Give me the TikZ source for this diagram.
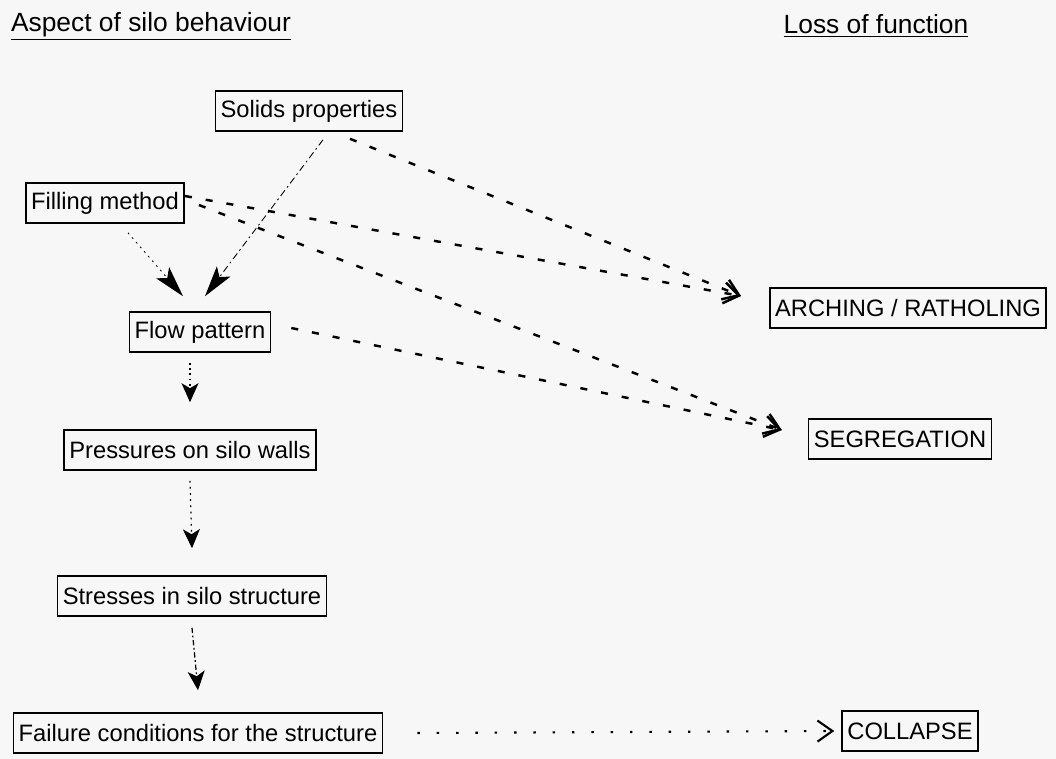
\documentclass[tikz,border=0pt]{standalone}
\usepackage{fontspec}
\setmainfont{Liberation Sans}
\usetikzlibrary{arrows.meta}

\begin{document}
\begin{tikzpicture}[
    box/.style={draw, line width=0.9pt, inner xsep=3pt, inner ysep=2pt, minimum height=0.8cm, font=\fontsize{13.5}{16}\selectfont},
    heading/.style={font=\fontsize{15}{18}\selectfont},
    lossline/.style={-{Straight Barb[length=0.3cm,width=0.42cm]}, line width=1.4pt, dash pattern=on 4pt off 8pt},
    feed/.style={-{Stealth[length=0.62cm,width=0.34cm,inset=0.14cm]}, line width=0.5pt},
    chain/.style={-{Stealth[length=0.38cm,width=0.34cm,inset=0.1cm]}, line width=0.7pt},
]
  \fill[black!3] (0,0) rectangle (21.12,-15.18);
  \useasboundingbox (0,0) rectangle (21.12,-15.18);

  \node[heading] (aspect) at (3.02,-0.52) {\underline{Aspect of silo behaviour}};
  \node[heading] (loss) at (17.52,-0.52) {\underline{Loss of function}};

  \node[box] (solids) at (6.18,-2.22) {Solids properties};
  \node[box] (filling) at (2.10,-4.06) {Filling method};
  \node[box] (flow) at (4.00,-6.64) {Flow pattern};
  \node[box] (press) at (3.80,-9.00) {Pressures on silo walls};
  \node[box] (stress) at (3.84,-11.92) {Stresses in silo structure};
  \node[box] (failure) at (3.96,-14.66) {Failure conditions for the structure};

  \node[box] (arching) at (18.16,-6.16) {ARCHING / RATHOLING};
  \node[box] (segr) at (18.00,-8.78) {SEGREGATION};
  \node[box] (collapse) at (18.20,-14.62) {COLLAPSE};

  \draw[feed, dash pattern=on 4pt off 2pt on 1pt off 2pt] ([xshift=0.28cm,yshift=-0.16cm]solids.south) -- ([xshift=0.1cm,yshift=0.3cm]flow.north);
  \draw[feed, dash pattern=on 1pt off 2.5pt] ([xshift=0.46cm,yshift=-0.18cm]filling.south) -- ([xshift=-0.34cm,yshift=0.3cm]flow.north);

  \draw[lossline] ([xshift=0.82cm,yshift=-0.14cm]solids.south) -- ([xshift=-0.56cm,yshift=0.24cm]arching.west);
  \draw[lossline] ([yshift=0.14cm]filling.east) -- ([xshift=-0.56cm,yshift=0.24cm]arching.west);
  \draw[lossline] ([xshift=0.28cm,yshift=-0.04cm]filling.east) -- ([xshift=-0.52cm,yshift=0.18cm]segr.west);
  \draw[lossline] ([xshift=0.4cm,yshift=0.08cm]flow.east) -- ([xshift=-0.52cm,yshift=0.18cm]segr.west);

  \draw[chain, dash pattern=on 1pt off 2pt] ([yshift=-0.2cm]flow.south -| press.north) -- ([yshift=0.54cm]press.north);
  \draw[chain, dash pattern=on 1pt off 2.5pt] ([yshift=-0.2cm]press.south) -- ([yshift=0.54cm]stress.north);
  \draw[chain, dash pattern=on 3pt off 1.5pt on 1pt off 1.5pt] ([yshift=-0.22cm]stress.south) -- ([yshift=0.44cm]failure.north);

  \draw[lossline, line width=1.2pt, dash pattern=on 1.4pt off 9.6pt] ([xshift=0.68cm]failure.east) -- ([xshift=-0.14cm]collapse.west);
\end{tikzpicture}
\end{document}
